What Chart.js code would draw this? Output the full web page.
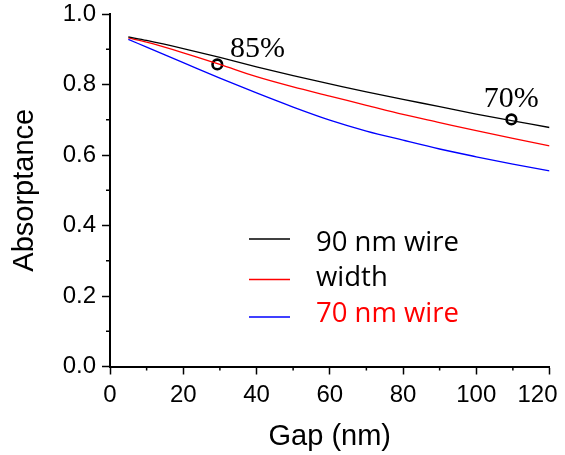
<!DOCTYPE html>
<html lang="en">
<head>
  <meta charset="UTF-8">
  <title>Absorptance vs gap</title>
  <script src="https://cdn.jsdelivr.net/npm/chart.js"></script>
  <style>
    html, body { margin: 0; padding: 0; background: #fff; }
  </style>
</head>
<body>
  <canvas id="absChart" width="565" height="455"></canvas>

  <script>
    // values
    const gaps = [5, 10, 20, 30, 40, 50, 60, 70, 80, 90, 100, 110, 120];
    const wire90 = [0.935, 0.925, 0.902, 0.877, 0.850, 0.825, 0.802, 0.779, 0.758, 0.737, 0.716, 0.697, 0.678];
    const wireWidth = [0.932, 0.920, 0.890, 0.857, 0.822, 0.793, 0.767, 0.741, 0.715, 0.692, 0.669, 0.647, 0.626];
    const wire70 = [0.928, 0.906, 0.862, 0.818, 0.776, 0.736, 0.699, 0.668, 0.642, 0.617, 0.595, 0.574, 0.555];

    const markerGaps = [29.3, 109.6];
    const markerValues = [0.857, 0.701];
    const markerLabels = ['85%', '70%'];

    const legendLabels = ['90 nm wire', 'width', '70 nm wire'];
    const lineColors = ['#000000', '#ff0000', '#0000ff'];
    const legendTextColors = ['#000000', '#000000', '#ff0000'];

    const toPoints = (ys) => ys.map((y, i) => ({ x: gaps[i], y: y }));

    const noPad = (scale) => {
      scale.paddingLeft = 0;
      scale.paddingRight = 0;
      scale.paddingTop = 0;
      scale.paddingBottom = 0;
    };

    // short unlabeled ticks half way between the labeled ones
    const minorTicks = {
      id: 'minorTicks',
      afterDraw(chart) {
        const ctx = chart.ctx;
        const xs = chart.scales.x;
        const ys = chart.scales.y;
        const area = chart.chartArea;
        ctx.save();
        ctx.strokeStyle = '#000';
        ctx.lineWidth = 1.5;
        ctx.beginPath();
        for (let v = 10; v < 120; v += 20) {
          const px = xs.getPixelForValue(v);
          ctx.moveTo(px, area.bottom);
          ctx.lineTo(px, area.bottom + 4);
        }
        for (let v = 0.1; v < 1; v += 0.2) {
          const py = ys.getPixelForValue(v);
          ctx.moveTo(area.left, py);
          ctx.lineTo(area.left - 4, py);
        }
        ctx.stroke();
        ctx.restore();
      }
    };

    // percentage notes beside the two circles
    const markerNotes = {
      id: 'markerNotes',
      afterDatasetsDraw(chart) {
        const ctx = chart.ctx;
        const meta = chart.getDatasetMeta(3);
        const offsets = [[12.6, -7], [-27.7, -12.6]];
        ctx.save();
        ctx.font = '30px "Liberation Serif", "Times New Roman", serif';
        ctx.fillStyle = '#000';
        ctx.textAlign = 'left';
        ctx.textBaseline = 'alphabetic';
        meta.data.forEach((pt, i) => {
          ctx.fillText(markerLabels[i], pt.x + offsets[i][0], pt.y + offsets[i][1]);
        });
        ctx.restore();
      }
    };

    const legendBox = {
      id: 'legendBox',
      afterDatasetsDraw(chart) {
        const ctx = chart.ctx;
        const lineY = [239, 279.5, 317];
        const textY = [251, 285.5, 322];
        ctx.save();
        ctx.font = '27.5px "Open Sans", sans-serif';
        ctx.textBaseline = 'alphabetic';
        legendLabels.forEach((label, i) => {
          ctx.strokeStyle = lineColors[i];
          ctx.lineWidth = 1.5;
          ctx.beginPath();
          ctx.moveTo(249, lineY[i]);
          ctx.lineTo(290, lineY[i]);
          ctx.stroke();
          ctx.fillStyle = legendTextColors[i];
          ctx.fillText(label, 316, textY[i]);
        });
        ctx.restore();
      }
    };

    const tickFont = { family: '"Liberation Sans", Arial, sans-serif', size: 24 };
    const titleFont = { family: '"Liberation Sans", Arial, sans-serif', size: 29 };

    new Chart(document.getElementById('absChart').getContext('2d'), {
      type: 'line',
      data: {
        datasets: [
          { label: legendLabels[0], data: toPoints(wire90), borderColor: lineColors[0] },
          { label: legendLabels[1], data: toPoints(wireWidth), borderColor: lineColors[1] },
          { label: legendLabels[2], data: toPoints(wire70), borderColor: lineColors[2] },
          {
            label: 'markers',
            data: markerGaps.map((g, i) => ({ x: g, y: markerValues[i] })),
            showLine: false,
            pointRadius: 4.8,
            pointBorderWidth: 2.6,
            pointBorderColor: '#000',
            pointBackgroundColor: '#fff'
          }
        ]
      },
      options: {
        responsive: false,
        animation: false,
        layout: { padding: { left: 0, top: 14, right: 15.5, bottom: 0 } },
        elements: {
          line: { borderWidth: 1.3, cubicInterpolationMode: 'monotone' },
          point: { radius: 0 }
        },
        plugins: {
          legend: { display: false },
          tooltip: { enabled: false }
        },
        scales: {
          x: {
            type: 'linear',
            min: 0,
            max: 120,
            afterFit(scale) { scale.height = 88.5; noPad(scale); },
            ticks: {
              stepSize: 20, color: '#000', font: tickFont, padding: 6, maxRotation: 0,
              // last label is pulled in from the edge, as in the original
              callback: (v) => (v === 120 ? '120\u2002\u2002' : String(v))
            },
            grid: { drawOnChartArea: false, tickLength: 8, tickWidth: 1.5, tickColor: '#000' },
            border: { color: '#000', width: 2 },
            title: { display: true, text: 'Gap (nm)', color: '#000', font: titleFont, padding: { top: 0, bottom: 1 } }
          },
          y: {
            min: 0,
            max: 1,
            afterFit(scale) { scale.width = 110; noPad(scale); },
            ticks: { stepSize: 0.2, color: '#000', font: tickFont, padding: 6, callback: (v) => v.toFixed(1) },
            grid: { drawOnChartArea: false, tickLength: 8, tickWidth: 1.5, tickColor: '#000' },
            border: { color: '#000', width: 2 },
            title: { display: true, text: 'Absorptance', color: '#000', font: titleFont, padding: { top: 8, bottom: 0 } }
          }
        }
      },
      plugins: [minorTicks, markerNotes, legendBox]
    });
  </script>
</body>
</html>
